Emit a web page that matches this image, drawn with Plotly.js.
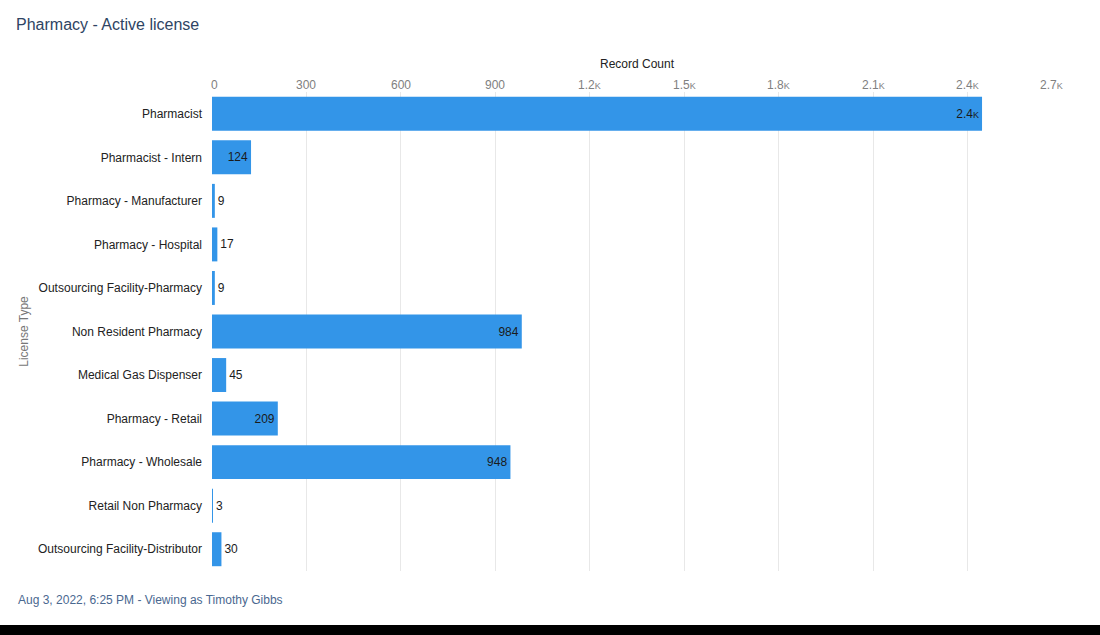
<!DOCTYPE html>
<html>
<head>
<meta charset="utf-8">
<script src="https://cdn.plot.ly/plotly-3.0.1.min.js"></script>
<style>
  html, body { margin: 0; padding: 0; background: #ffffff; }
  #chart { width: 1100px; height: 635px; }
</style>
</head>
<body>
<div id="chart"></div>
<script>
const categories = [
  "Pharmacist",
  "Pharmacist - Intern",
  "Pharmacy - Manufacturer",
  "Pharmacy - Hospital",
  "Outsourcing Facility-Pharmacy",
  "Non Resident Pharmacy",
  "Medical Gas Dispenser",
  "Pharmacy - Retail",
  "Pharmacy - Wholesale",
  "Retail Non Pharmacy",
  "Outsourcing Facility-Distributor"
];
const recordCounts = [2446, 124, 9, 17, 9, 984, 45, 209, 948, 3, 30];
const tickValues = [0, 300, 600, 900, 1200, 1500, 1800, 2100, 2400, 2700];

const K = '<span style="font-size:9px">K</span>';
function fmt(v) {
  if (v >= 1000) return (v / 1000).toFixed(1) + K;
  return String(v);
}
const tickLabels = tickValues.map(fmt);
const barLabels = recordCounts.map(fmt);

const FONT = '"Liberation Sans", Arial, sans-serif';

const trace = {
  type: 'bar',
  orientation: 'h',
  x: recordCounts,
  y: categories,
  marker: { color: '#3395E8' },
  text: barLabels,
  textposition: 'auto',
  insidetextanchor: 'end',
  constraintext: 'none',
  textfont: { family: FONT, size: 12, color: '#1b1b1b' },
  insidetextfont: { family: FONT, size: 12, color: '#1b1b1b' },
  outsidetextfont: { family: FONT, size: 12, color: '#1b1b1b' },
  cliponaxis: false,
  hoverinfo: 'x+y'
};

// tick labels on the top axis: first one left-aligned, last one right-aligned
const lastTick = tickValues.length - 1;
const tickAnnotations = tickValues.map((v, i) => ({
  text: tickLabels[i],
  xref: 'x', yref: 'paper',
  x: v, y: 1,
  xanchor: i === 0 ? 'left' : (i === lastTick ? 'right' : 'center'),
  xshift: i === 0 ? -3 : (i === lastTick ? 3 : 0),
  yanchor: 'bottom',
  yshift: -2,
  showarrow: false,
  font: { family: FONT, size: 12, color: '#808080' }
}));

const layout = {
  width: 1100,
  height: 635,
  paper_bgcolor: '#ffffff',
  plot_bgcolor: '#ffffff',
  font: { family: FONT, size: 12, color: '#333' },
  margin: { l: 212, r: 38, t: 92, b: 64, pad: 0 },
  showlegend: false,
  bargap: 0.22,
  xaxis: {
    side: 'top',
    range: [0, 2700],
    tickvals: tickValues,
    ticktext: tickLabels,
    showticklabels: false,
    showgrid: true,
    gridcolor: '#e8e8e8',
    gridwidth: 1,
    zeroline: false,
    showline: false,
    ticks: '',
    fixedrange: true
  },
  yaxis: {
    type: 'category',
    autorange: 'reversed',
    tickfont: { family: FONT, size: 12, color: '#222' },
    ticks: '',
    ticklabelstandoff: 9,
    showgrid: false,
    zeroline: false,
    showline: false,
    fixedrange: true,
    title: { text: 'License Type', font: { family: FONT, size: 12, color: '#777' }, standoff: 6 }
  },
  title: {
    text: 'Pharmacy - Active license',
    font: { family: FONT, size: 16, color: '#2e4463' },
    x: 16 / 1100, xanchor: 'left', xref: 'container',
    y: 1 - 24 / 635, yanchor: 'middle', yref: 'container'
  },
  annotations: tickAnnotations.concat([{
    text: 'Record Count',
    xref: 'paper', yref: 'paper',
    x: 0.5, y: 1 + (92 - 64) / 479,
    xanchor: 'center', yanchor: 'middle',
    showarrow: false,
    font: { family: FONT, size: 12, color: '#222' }
  }, {
    text: 'Aug 3, 2022, 6:25 PM - Viewing as Timothy Gibbs',
    xref: 'paper', yref: 'paper',
    x: (16 - 212) / 850, y: -(600 - 571) / 479,
    xanchor: 'left', yanchor: 'middle',
    showarrow: false,
    font: { family: FONT, size: 12, color: '#4a6890' }
  }]),
  shapes: [{
    type: 'rect', xref: 'paper', yref: 'paper',
    x0: -212 / 850, x1: 1 + 38 / 850,
    y0: -64 / 479, y1: -(625 - 571) / 479,
    fillcolor: '#000', line: { width: 0 }, layer: 'above'
  }]
};

Plotly.newPlot('chart', [trace], layout, { displayModeBar: false, responsive: false });
</script>
</body>
</html>
